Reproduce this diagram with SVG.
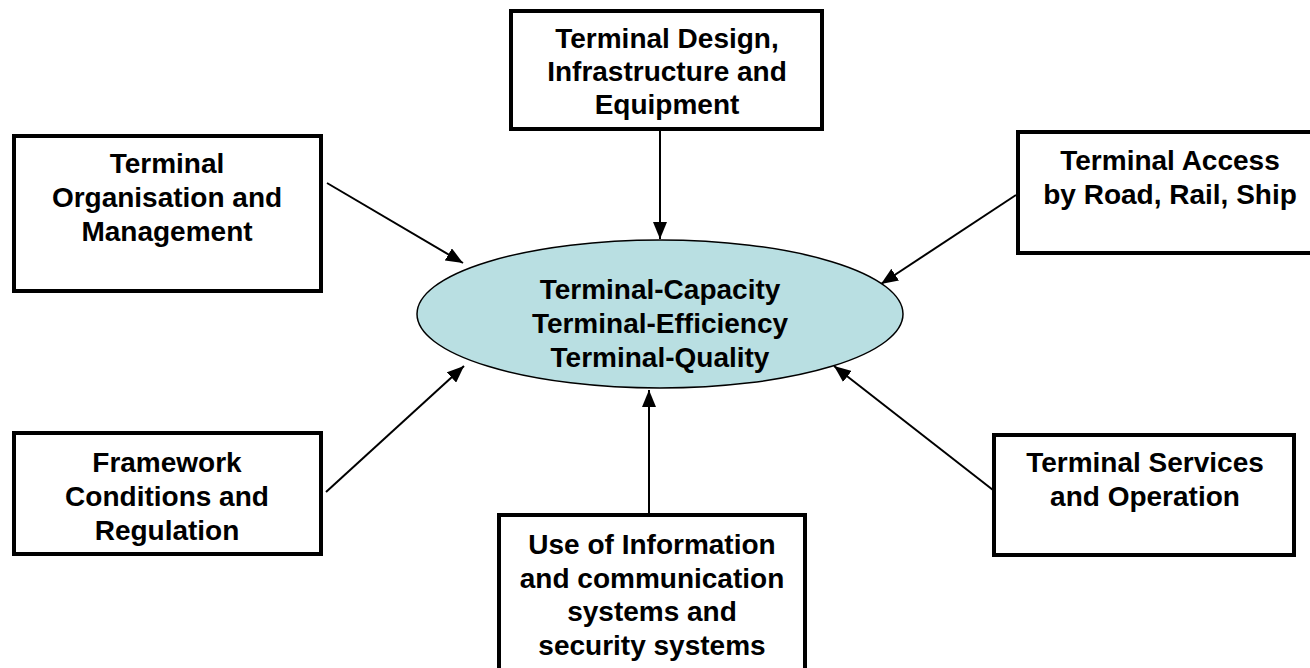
<svg xmlns="http://www.w3.org/2000/svg" width="1310" height="668" viewBox="0 0 1310 668">
<style>
.box{fill:#fff;stroke:#000;stroke-width:4}
.t{font-family:"Liberation Sans",Arial,sans-serif;font-weight:bold;font-size:28px;fill:#000;text-anchor:middle}
.c{stroke:#000;stroke-width:2;fill:none;marker-end:url(#ah)}
</style>
<defs>
<marker id="ah" markerUnits="userSpaceOnUse" markerWidth="18" markerHeight="14" refX="17" refY="7" orient="auto">
<path d="M0,0 L17,7 L0,14 Z" fill="#000"/>
</marker>
</defs>
<rect width="1310" height="668" fill="#fff"/>
<g id="connectors">
<line class="c" x1="660" y1="131" x2="660" y2="239"/>
<line class="c" x1="327" y1="183" x2="463" y2="263"/>
<line class="c" x1="1016" y1="195" x2="881" y2="284"/>
<line class="c" x1="326" y1="492" x2="464" y2="366"/>
<line class="c" x1="649" y1="514" x2="649" y2="390"/>
<line class="c" x1="993" y1="490" x2="834" y2="366"/>
</g>
<g id="center">
<ellipse cx="660" cy="314" rx="243" ry="74" fill="#b9dfe2" stroke="#000" stroke-width="1.5"/>
<text class="t" x="660" y="299">Terminal-Capacity</text>
<text class="t" x="660" y="333">Terminal-Efficiency</text>
<text class="t" x="660" y="367">Terminal-Quality</text>
</g>
<g id="design">
<rect class="box" x="511" y="11" width="311" height="118"/>
<text class="t" x="667" y="48">Terminal Design,</text>
<text class="t" x="667" y="81">Infrastructure and</text>
<text class="t" x="667" y="114">Equipment</text>
</g>
<g id="organisation">
<rect class="box" x="14" y="136" width="307" height="155"/>
<text class="t" x="167" y="173">Terminal</text>
<text class="t" x="167" y="207">Organisation and</text>
<text class="t" x="167" y="241">Management</text>
</g>
<g id="access">
<rect class="box" x="1018" y="132" width="300" height="121"/>
<text class="t" x="1170" y="170">Terminal Access</text>
<text class="t" x="1170" y="204">by Road, Rail, Ship</text>
</g>
<g id="framework">
<rect class="box" x="14" y="433" width="307" height="121"/>
<text class="t" x="167" y="472">Framework</text>
<text class="t" x="167" y="506">Conditions and</text>
<text class="t" x="167" y="540">Regulation</text>
</g>
<g id="services">
<rect class="box" x="994" y="435" width="300" height="120"/>
<text class="t" x="1145" y="472">Terminal Services</text>
<text class="t" x="1145" y="506">and Operation</text>
</g>
<g id="information">
<rect class="box" x="499" y="515" width="306" height="190"/>
<text class="t" x="652" y="554">Use of Information</text>
<text class="t" x="652" y="588">and communication</text>
<text class="t" x="652" y="621">systems and</text>
<text class="t" x="652" y="655">security systems</text>
</g>
</svg>
